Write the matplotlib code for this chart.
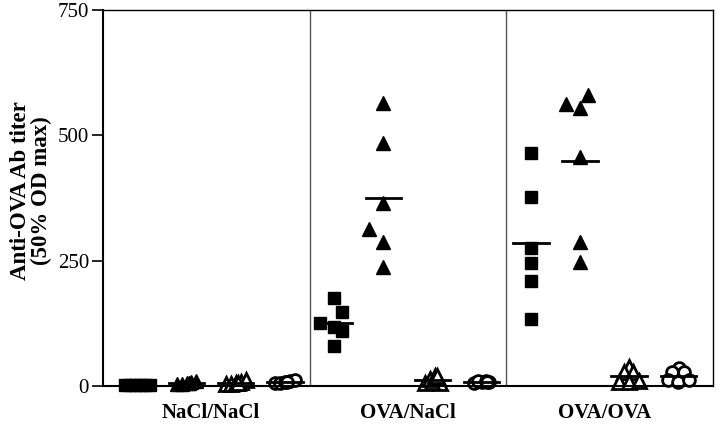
import numpy as np
import matplotlib
matplotlib.use('Agg')
import matplotlib.pyplot as plt

plt.rcParams['font.family'] = ['Liberation Serif', 'DejaVu Serif']

# Groups (x axis) and the four series plotted in each group
groups = ['NaCl/NaCl', 'OVA/NaCl', 'OVA/OVA']

# titers, one list per series per group
sq_filled = [
    [2, 2, 2, 2, 2, 2],
    [175, 148, 126, 118, 110, 80],
    [465, 377, 275, 245, 209, 134],
]
tri_filled = [
    [3, 4, 6, 8, 10, 6],
    [565, 485, 365, 313, 287, 237],
    [580, 563, 555, 457, 287, 247],
]
tri_open = [
    [3, 4, 6, 8, 12, 5],
    [5, 6, 8, 14, 20, 19],
    [38, 28, 27, 8, 8, 10],
]
circ_open = [
    [5, 6, 8, 10, 12, 7],
    [6, 7, 8, 10, 10, 8],
    [36, 27, 27, 12, 8, 12],
]

# small horizontal scatter so overlapping points stay visible (column units)
jit_sq = [[-0.25, -0.15, -0.05, 0.05, 0.15, 0.25],
          [0, 0.16, -0.29, 0, 0.16, 0],
          [0, 0, 0, 0, 0, 0]]
jit_tri = [[-0.2, -0.1, 0, 0.1, 0.2, 0.05],
           [0, 0, 0, -0.3, 0, 0],
           [0.16, -0.29, 0, 0, 0, 0]]
jit_otri = [[-0.2, -0.1, 0, 0.1, 0.2, 0.05],
            [-0.15, 0.15, 0, -0.05, 0.05, 0.1],
            [0, -0.1, 0.08, -0.2, 0, 0.2]]
jit_circ = [[-0.2, -0.1, 0, 0.1, 0.2, 0.05],
            [-0.15, 0.15, 0, -0.08, 0.08, 0.1],
            [0.02, -0.12, 0.12, -0.22, 0, 0.22]]

series = [
    (sq_filled, jit_sq, dict(marker='s', color='black', ms=9)),
    (tri_filled, jit_tri, dict(marker='^', color='black', ms=9.5)),
    (tri_open, jit_otri, dict(marker='^', mfc='white', mec='black', mew=2, ms=9.5)),
    (circ_open, jit_circ, dict(marker='o', mfc='white', mec='black', mew=2, ms=8.5)),
]

fig = plt.figure(figsize=(7.2, 4.36), dpi=100)
ax = fig.add_axes([0.143, 0.115, 0.847, 0.862])

for g in range(len(groups)):
    for s, (vals, jit, style) in enumerate(series):
        x0 = g * 4 + s
        v = np.array(vals[g])
        ax.plot(x0 + np.array(jit[g]), v, ls='none', clip_on=False, **style)
        # group mean bar
        m = v.mean()
        ax.plot([x0 - 0.36, x0 + 0.36], [m, m], color='black', lw=2, zorder=3, clip_on=False)

# dividers between groups
for g in range(1, len(groups)):
    ax.axvline(g * 4 - 0.5, color='#555555', lw=1)

ax.set_xlim(-0.7, 11.7)
ax.set_ylim(0, 750)
ax.set_yticks([0, 250, 500, 750])
ax.tick_params(axis='y', direction='out', length=8, width=1.2, labelsize=15, pad=2)
ax.set_xticks([1.5, 5.5, 9.5])
ax.set_xticklabels(groups, fontsize=15, fontweight='bold')
ax.tick_params(axis='x', length=0, pad=12)
for sp in ax.spines.values():
    sp.set_linewidth(1)
ax.spines['left'].set_linewidth(1.5)
ax.spines['bottom'].set_linewidth(1.5)
ax.set_ylabel('Anti-OVA Ab titer\n(50% OD max)', fontsize=16.5, fontweight='bold', labelpad=4, linespacing=1.0)
ax.yaxis.label.set_y(0.52)

fig.savefig('out.png', dpi=100)
